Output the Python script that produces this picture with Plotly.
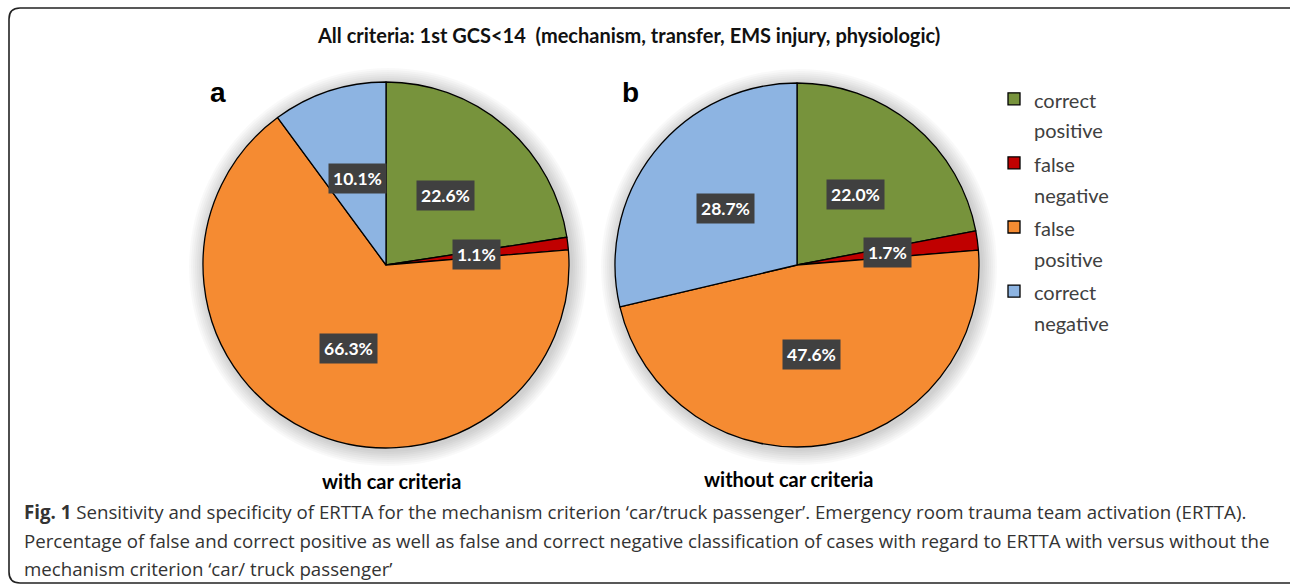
import math
import plotly.graph_objects as go

W, H = 1290, 586

# ---- data ----
categories = ["correct positive", "false negative", "false positive", "correct negative"]
values_a = [22.6, 1.1, 66.3, 10.1]
values_b = [22.0, 1.7, 47.6, 28.7]
colors = ["#77933C", "#C00000", "#F58B32", "#8DB4E2"]
title_text = "All criteria: 1st GCS<14  (mechanism, transfer, EMS injury, physiologic)"
panel_letters = ["a", "b"]
panel_names = ["with car criteria", "without car criteria"]
caption_lines = [
    "<b>Fig. 1</b> Sensitivity and specificity of ERTTA for the mechanism criterion \u2018car/truck passenger\u2019. Emergency room trauma team activation (ERTTA).",
    "Percentage of false and correct positive as well as false and correct negative classification of cases with regard to ERTTA with versus without the",
    "mechanism criterion \u2018car/ truck passenger\u2019",
]

# ---- layout geometry (pixels) ----
pies = [
    dict(cx=386, cy=265, r=183, vals=values_a),
    dict(cx=797, cy=265, r=182, vals=values_b),
]

def px(x):
    return x / W

def py(y):
    return 1 - y / H

legend_names = ['<span style="font-size:20px">' + c.replace(" ", "<br>") + "</span>" for c in categories]

fig = go.Figure()
annotations = []
shapes = []
for i, p in enumerate(pies):
    dx = p["r"] / W
    dy = p["r"] / H
    # soft shadow
    for k in range(8, 0, -1):
        rr = p["r"] + 2 * k
        shapes.append(dict(type="circle", xref="paper", yref="paper", layer="below",
                           x0=px(p["cx"] - rr + 2), x1=px(p["cx"] + rr + 2),
                           y0=py(p["cy"] + rr + 2), y1=py(p["cy"] - rr + 2),
                           fillcolor="rgba(0,0,0,0.022)", line=dict(width=0)))
    fig.add_trace(go.Pie(
        labels=legend_names,
        values=p["vals"],
        sort=False,
        direction="clockwise",
        rotation=0,
        textinfo="none",
        hoverinfo="percent",
        marker=dict(colors=colors, line=dict(color="#000000", width=1.3)),
        domain=dict(x=[px(p["cx"]) - dx, px(p["cx"]) + dx],
                    y=[py(p["cy"]) - dy, py(p["cy"]) + dy]),
        showlegend=(i == 0),
    ))
    # value labels at half radius along each slice's mid angle
    total = sum(p["vals"])
    cum = 0.0
    for v in p["vals"]:
        mid = (cum + v / 2) / total * 2 * math.pi
        cum += v
        lx = p["cx"] + 0.5 * p["r"] * math.sin(mid)
        ly = p["cy"] - 0.5 * p["r"] * math.cos(mid)
        annotations.append(dict(
            x=px(lx), y=py(ly), xref="paper", yref="paper",
            text=f"<b>{v:.1f}%</b>", showarrow=False,
            font=dict(family="Lato, Open Sans, sans-serif", size=17.5, color="white"),
            bgcolor="#404040", borderpad=4, xanchor="center", yanchor="middle",
        ))

# title
annotations.append(dict(x=px(628), y=py(35), xref="paper", yref="paper",
                        text=f"<b>{title_text.replace('<', '&lt;')}</b>", showarrow=False,
                        font=dict(family="Lato, sans-serif", size=20, color="#111111"),
                        xanchor="center", yanchor="middle"))
# panel letters
for (x, y), t in zip([(218, 92), (630, 92)], panel_letters):
    annotations.append(dict(x=px(x), y=py(y), xref="paper", yref="paper", text=f"<b>{t}</b>",
                            showarrow=False, xanchor="center", yanchor="middle",
                            font=dict(family="Liberation Sans, Arial, sans-serif", size=28, color="black")))
# panel names
for (x, y), t in zip([(391, 481), (789, 479)], panel_names):
    annotations.append(dict(x=px(x), y=py(y), xref="paper", yref="paper", text=f"<b>{t}</b>",
                            showarrow=False, xanchor="center", yanchor="middle",
                            font=dict(family="Lato, sans-serif", size=20, color="black")))
# caption
for line, y in zip(caption_lines, [511, 540, 568]):
    annotations.append(dict(x=px(22), y=py(y), xref="paper", yref="paper", text=line,
                            showarrow=False, xanchor="left", yanchor="middle",
                            font=dict(family="Open Sans, sans-serif", size=18.7, color="#333333")))

# frame with rounded corners (open on the right)
r = 11
x0, y0, x1, y1 = 9, 8, 1300, 583
frame_path = (f"M {px(x1)},{py(y0)} L {px(x0 + r)},{py(y0)} Q {px(x0)},{py(y0)} {px(x0)},{py(y0 + r)} "
              f"L {px(x0)},{py(y1 - r)} Q {px(x0)},{py(y1)} {px(x0 + r)},{py(y1)} L {px(x1)},{py(y1)}")
shapes.append(dict(type="path", path=frame_path, xref="paper", yref="paper",
                   line=dict(color="#222222", width=1.6)))

fig.update_layout(
    width=W, height=H,
    margin=dict(l=0, r=0, t=0, b=0),
    paper_bgcolor="white", plot_bgcolor="white",
    annotations=annotations,
    shapes=shapes,
    legend=dict(x=px(994), y=py(77), xanchor="left", yanchor="top",
                valign="top", bgcolor="rgba(0,0,0,0)",
                font=dict(family="Lato, sans-serif", size=23.5, color="#404040"),
                itemwidth=30, tracegroupgap=0),
)

fig.write_html("out.html", config={"displayModeBar": False},
               post_script="document.body.style.margin='0';document.body.style.overflow='hidden';")
